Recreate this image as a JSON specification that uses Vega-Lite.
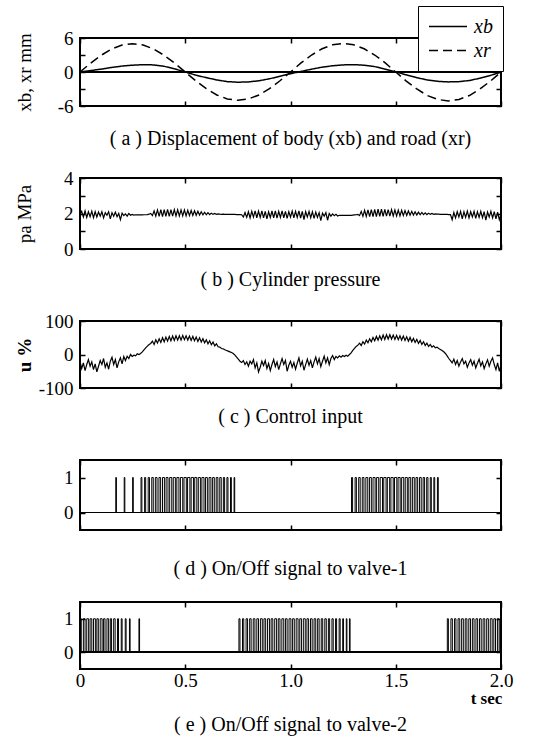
{
"$schema": "https://vega.github.io/schema/vega-lite/v6.json",
"padding": {"left": 14, "top": 5, "right": 5, "bottom": 10},
"bounds": "flush",
"spacing": 72,
"config": {
 "font": "Liberation Serif",
 "view": {"stroke": "black", "strokeWidth": 2},
 "axis": {"domain": false, "grid": false, "tickSize": -5, "tickWidth": 1.5, "tickColor": "black", "labelFont": "Liberation Serif", "labelFontSize": 19, "labelColor": "black", "labelPadding": 12, "labelFlush": false, "labelOverlap": false, "titleFont": "Liberation Serif", "titleFontSize": 19, "titleFontWeight": "normal", "titleColor": "black"},
 "title": {"font": "Liberation Serif", "fontSize": 20, "fontWeight": "normal", "color": "black", "anchor": "middle"}
},
"datasets": {
 "disp": [
  {"t":0,"v":0,"s":"xb"},{"t":0.05,"v":0.25,"s":"xb"},{"t":0.1,"v":0.5,"s":"xb"},{"t":0.15,"v":0.8,"s":"xb"},{"t":0.2,"v":1.05,"s":"xb"},{"t":0.25,"v":1.2,"s":"xb"},{"t":0.3,"v":1.3,"s":"xb"},{"t":0.35,"v":1.25,"s":"xb"},{"t":0.4,"v":1.0,"s":"xb"},{"t":0.45,"v":0.55,"s":"xb"},{"t":0.5,"v":0,"s":"xb"},{"t":0.55,"v":-0.55,"s":"xb"},{"t":0.6,"v":-1.0,"s":"xb"},{"t":0.65,"v":-1.4,"s":"xb"},{"t":0.7,"v":-1.7,"s":"xb"},{"t":0.75,"v":-1.8,"s":"xb"},{"t":0.8,"v":-1.75,"s":"xb"},{"t":0.85,"v":-1.55,"s":"xb"},{"t":0.9,"v":-1.2,"s":"xb"},{"t":0.95,"v":-0.75,"s":"xb"},{"t":1.0,"v":-0.3,"s":"xb"},{"t":1.05,"v":0.1,"s":"xb"},{"t":1.1,"v":0.5,"s":"xb"},{"t":1.15,"v":0.85,"s":"xb"},{"t":1.2,"v":1.1,"s":"xb"},{"t":1.25,"v":1.25,"s":"xb"},{"t":1.3,"v":1.3,"s":"xb"},{"t":1.35,"v":1.2,"s":"xb"},{"t":1.4,"v":0.95,"s":"xb"},{"t":1.45,"v":0.5,"s":"xb"},{"t":1.5,"v":0,"s":"xb"},{"t":1.55,"v":-0.5,"s":"xb"},{"t":1.6,"v":-1.0,"s":"xb"},{"t":1.65,"v":-1.4,"s":"xb"},{"t":1.7,"v":-1.65,"s":"xb"},{"t":1.75,"v":-1.75,"s":"xb"},{"t":1.8,"v":-1.7,"s":"xb"},{"t":1.85,"v":-1.5,"s":"xb"},{"t":1.9,"v":-1.1,"s":"xb"},{"t":1.95,"v":-0.6,"s":"xb"},{"t":2.0,"v":0,"s":"xb"},
  {"t":0,"v":0,"s":"xr"},{"t":0.05,"v":1.55,"s":"xr"},{"t":0.1,"v":2.94,"s":"xr"},{"t":0.15,"v":4.05,"s":"xr"},{"t":0.2,"v":4.76,"s":"xr"},{"t":0.25,"v":5.0,"s":"xr"},{"t":0.3,"v":4.76,"s":"xr"},{"t":0.35,"v":4.05,"s":"xr"},{"t":0.4,"v":2.94,"s":"xr"},{"t":0.45,"v":1.55,"s":"xr"},{"t":0.5,"v":0,"s":"xr"},{"t":0.55,"v":-1.55,"s":"xr"},{"t":0.6,"v":-2.94,"s":"xr"},{"t":0.65,"v":-4.05,"s":"xr"},{"t":0.7,"v":-4.76,"s":"xr"},{"t":0.75,"v":-5.0,"s":"xr"},{"t":0.8,"v":-4.76,"s":"xr"},{"t":0.85,"v":-4.05,"s":"xr"},{"t":0.9,"v":-2.94,"s":"xr"},{"t":0.95,"v":-1.55,"s":"xr"},{"t":1.0,"v":0,"s":"xr"},{"t":1.05,"v":1.6,"s":"xr"},{"t":1.1,"v":3.0,"s":"xr"},{"t":1.15,"v":4.1,"s":"xr"},{"t":1.2,"v":4.8,"s":"xr"},{"t":1.25,"v":5.05,"s":"xr"},{"t":1.3,"v":4.8,"s":"xr"},{"t":1.35,"v":4.1,"s":"xr"},{"t":1.4,"v":3.0,"s":"xr"},{"t":1.45,"v":1.6,"s":"xr"},{"t":1.5,"v":0,"s":"xr"},{"t":1.55,"v":-1.6,"s":"xr"},{"t":1.6,"v":-3.0,"s":"xr"},{"t":1.65,"v":-4.15,"s":"xr"},{"t":1.7,"v":-4.85,"s":"xr"},{"t":1.75,"v":-5.1,"s":"xr"},{"t":1.8,"v":-4.85,"s":"xr"},{"t":1.85,"v":-4.15,"s":"xr"},{"t":1.9,"v":-3.0,"s":"xr"},{"t":1.95,"v":-1.6,"s":"xr"},{"t":2.0,"v":0,"s":"xr"}
 ],
 "pu": [
  {"t":0,"p":1.95,"u":-20},{"t":0.008,"p":2.12,"u":-42},{"t":0.016,"p":1.8,"u":-25},{"t":0.024,"p":2.15,"u":-48},{"t":0.032,"p":1.78,"u":-30},{"t":0.04,"p":2.1,"u":-15},{"t":0.048,"p":1.82,"u":-35},{"t":0.056,"p":2.13,"u":-22},{"t":0.064,"p":1.76,"u":-45},{"t":0.072,"p":2.1,"u":-28},
  {"t":0.08,"p":1.8,"u":-52},{"t":0.088,"p":2.08,"u":-35},{"t":0.096,"p":1.85,"u":-18},{"t":0.104,"p":2.1,"u":-30},{"t":0.112,"p":1.75,"u":-12},{"t":0.12,"p":2.05,"u":-38},{"t":0.128,"p":1.9,"u":-25},{"t":0.136,"p":2.1,"u":-44},{"t":0.144,"p":1.7,"u":-20},{"t":0.152,"p":2.05,"u":-8},
  {"t":0.16,"p":1.85,"u":-30},{"t":0.168,"p":2.08,"u":-15},{"t":0.176,"p":1.82,"u":-40},{"t":0.184,"p":2.0,"u":-22},{"t":0.192,"p":1.65,"u":-10},{"t":0.2,"p":2.02,"u":-28},{"t":0.208,"p":1.88,"u":-6},{"t":0.216,"p":1.98,"u":-18},{"t":0.224,"p":1.85,"u":-5},{"t":0.232,"p":2.0,"u":-12},
  {"t":0.24,"p":1.9,"u":0},{"t":0.248,"p":1.95,"u":-6},{"t":0.256,"p":1.91,"u":-2},{"t":0.264,"p":1.93,"u":-4},{"t":0.272,"p":1.92,"u":2},{"t":0.28,"p":1.92,"u":0},{"t":0.288,"p":1.93,"u":3},{"t":0.296,"p":1.92,"u":8},{"t":0.304,"p":1.93,"u":14},{"t":0.312,"p":1.93,"u":20},
  {"t":0.32,"p":1.94,"u":25},{"t":0.328,"p":1.96,"u":30},{"t":0.336,"p":2.0,"u":33},{"t":0.344,"p":1.88,"u":40},{"t":0.352,"p":2.15,"u":30},{"t":0.36,"p":1.85,"u":44},{"t":0.368,"p":2.2,"u":34},{"t":0.376,"p":1.84,"u":47},{"t":0.384,"p":2.22,"u":36},{"t":0.392,"p":1.83,"u":50},
  {"t":0.4,"p":2.22,"u":38},{"t":0.408,"p":1.84,"u":52},{"t":0.416,"p":2.23,"u":40},{"t":0.424,"p":1.84,"u":54},{"t":0.432,"p":2.22,"u":41},{"t":0.44,"p":1.85,"u":55},{"t":0.448,"p":2.22,"u":42},{"t":0.456,"p":1.86,"u":56},{"t":0.464,"p":2.21,"u":43},{"t":0.472,"p":1.86,"u":56},
  {"t":0.48,"p":2.2,"u":43},{"t":0.488,"p":1.87,"u":57},{"t":0.496,"p":2.2,"u":44},{"t":0.504,"p":1.87,"u":56},{"t":0.512,"p":2.18,"u":43},{"t":0.52,"p":1.88,"u":55},{"t":0.528,"p":2.17,"u":42},{"t":0.536,"p":1.89,"u":54},{"t":0.544,"p":2.15,"u":41},{"t":0.552,"p":1.9,"u":52},
  {"t":0.56,"p":2.13,"u":39},{"t":0.568,"p":1.91,"u":50},{"t":0.576,"p":2.1,"u":37},{"t":0.584,"p":1.92,"u":47},{"t":0.592,"p":2.07,"u":35},{"t":0.6,"p":1.93,"u":44},{"t":0.608,"p":2.05,"u":32},{"t":0.616,"p":1.94,"u":41},{"t":0.624,"p":2.02,"u":29},{"t":0.632,"p":1.95,"u":37},
  {"t":0.64,"p":2.0,"u":26},{"t":0.648,"p":1.95,"u":32},{"t":0.656,"p":1.98,"u":23},{"t":0.664,"p":1.96,"u":22},{"t":0.672,"p":1.95,"u":18},{"t":0.68,"p":1.96,"u":17},{"t":0.688,"p":1.95,"u":14},{"t":0.696,"p":1.95,"u":12},{"t":0.704,"p":1.95,"u":10},{"t":0.712,"p":1.95,"u":8},
  {"t":0.72,"p":1.95,"u":6},{"t":0.728,"p":1.95,"u":3},{"t":0.736,"p":1.95,"u":-2},{"t":0.744,"p":1.94,"u":-8},{"t":0.752,"p":1.94,"u":-14},{"t":0.76,"p":1.94,"u":-20},{"t":0.768,"p":1.93,"u":-24},{"t":0.776,"p":1.8,"u":-18},{"t":0.784,"p":2.05,"u":-30},{"t":0.792,"p":1.78,"u":-22},
  {"t":0.8,"p":2.1,"u":-35},{"t":0.808,"p":1.75,"u":-20},{"t":0.816,"p":2.12,"u":-28},{"t":0.824,"p":1.8,"u":-15},{"t":0.832,"p":2.15,"u":-40},{"t":0.84,"p":1.76,"u":-25},{"t":0.848,"p":2.13,"u":-52},{"t":0.856,"p":1.78,"u":-38},{"t":0.864,"p":2.15,"u":-20},{"t":0.872,"p":1.75,"u":-33},
  {"t":0.88,"p":2.12,"u":-18},{"t":0.888,"p":1.7,"u":-42},{"t":0.896,"p":2.1,"u":-27},{"t":0.904,"p":1.78,"u":-48},{"t":0.912,"p":2.14,"u":-30},{"t":0.92,"p":1.76,"u":-15},{"t":0.928,"p":2.15,"u":-36},{"t":0.936,"p":1.74,"u":-22},{"t":0.944,"p":2.12,"u":-45},{"t":0.952,"p":1.78,"u":-28},
  {"t":0.96,"p":2.15,"u":-12},{"t":0.968,"p":1.76,"u":-30},{"t":0.976,"p":2.12,"u":-18},{"t":0.984,"p":1.72,"u":-50},{"t":0.992,"p":2.1,"u":-32},{"t":1.0,"p":1.8,"u":-20},{"t":1.008,"p":2.14,"u":-38},{"t":1.016,"p":1.75,"u":-24},{"t":1.024,"p":2.12,"u":-44},{"t":1.032,"p":1.78,"u":-26},
  {"t":1.04,"p":2.15,"u":-10},{"t":1.048,"p":1.74,"u":-34},{"t":1.056,"p":2.12,"u":-20},{"t":1.064,"p":1.65,"u":-47},{"t":1.072,"p":2.1,"u":-30},{"t":1.08,"p":1.8,"u":-14},{"t":1.088,"p":2.12,"u":-32},{"t":1.096,"p":1.76,"u":-18},{"t":1.104,"p":2.1,"u":-40},{"t":1.112,"p":1.72,"u":-22},
  {"t":1.12,"p":2.08,"u":-8},{"t":1.128,"p":1.78,"u":-28},{"t":1.136,"p":2.05,"u":-12},{"t":1.144,"p":1.6,"u":-36},{"t":1.152,"p":2.02,"u":-20},{"t":1.16,"p":1.85,"u":-5},{"t":1.168,"p":2.05,"u":-25},{"t":1.176,"p":1.62,"u":-10},{"t":1.184,"p":2.0,"u":-30},{"t":1.192,"p":1.85,"u":-12},
  {"t":1.2,"p":1.98,"u":-3},{"t":1.208,"p":1.88,"u":-15},{"t":1.216,"p":1.95,"u":-6},{"t":1.224,"p":1.86,"u":-10},{"t":1.232,"p":1.9,"u":-4},{"t":1.24,"p":1.89,"u":-8},{"t":1.248,"p":1.9,"u":-3},{"t":1.256,"p":1.9,"u":-6},{"t":1.264,"p":1.89,"u":-2},{"t":1.272,"p":1.9,"u":-5},
  {"t":1.28,"p":1.9,"u":0},{"t":1.288,"p":1.9,"u":5},{"t":1.296,"p":1.91,"u":12},{"t":1.304,"p":1.92,"u":18},{"t":1.312,"p":1.93,"u":24},{"t":1.32,"p":1.95,"u":28},{"t":1.328,"p":1.88,"u":34},{"t":1.336,"p":2.12,"u":27},{"t":1.344,"p":1.84,"u":38},{"t":1.352,"p":2.18,"u":31},
  {"t":1.36,"p":1.83,"u":43},{"t":1.368,"p":2.2,"u":35},{"t":1.376,"p":1.82,"u":47},{"t":1.384,"p":2.22,"u":38},{"t":1.392,"p":1.83,"u":51},{"t":1.4,"p":2.23,"u":41},{"t":1.408,"p":1.83,"u":54},{"t":1.416,"p":2.24,"u":43},{"t":1.424,"p":1.84,"u":56},{"t":1.432,"p":2.24,"u":44},
  {"t":1.44,"p":1.84,"u":58},{"t":1.448,"p":2.23,"u":45},{"t":1.456,"p":1.85,"u":59},{"t":1.464,"p":2.22,"u":46},{"t":1.472,"p":1.85,"u":59},{"t":1.48,"p":2.22,"u":46},{"t":1.488,"p":1.86,"u":58},{"t":1.496,"p":2.2,"u":45},{"t":1.504,"p":1.86,"u":57},{"t":1.512,"p":2.19,"u":44},
  {"t":1.52,"p":1.87,"u":56},{"t":1.528,"p":2.18,"u":43},{"t":1.536,"p":1.88,"u":55},{"t":1.544,"p":2.16,"u":42},{"t":1.552,"p":1.89,"u":53},{"t":1.56,"p":2.14,"u":40},{"t":1.568,"p":1.9,"u":51},{"t":1.576,"p":2.12,"u":38},{"t":1.584,"p":1.91,"u":48},{"t":1.592,"p":2.1,"u":36},
  {"t":1.6,"p":1.92,"u":45},{"t":1.608,"p":2.08,"u":33},{"t":1.616,"p":1.93,"u":42},{"t":1.624,"p":2.06,"u":30},{"t":1.632,"p":1.94,"u":38},{"t":1.64,"p":2.04,"u":27},{"t":1.648,"p":1.94,"u":34},{"t":1.656,"p":2.02,"u":24},{"t":1.664,"p":1.95,"u":30},{"t":1.672,"p":2.0,"u":22},
  {"t":1.68,"p":1.95,"u":26},{"t":1.688,"p":1.98,"u":20},{"t":1.696,"p":1.96,"u":22},{"t":1.704,"p":1.96,"u":18},{"t":1.712,"p":1.95,"u":15},{"t":1.72,"p":1.95,"u":12},{"t":1.728,"p":1.95,"u":8},{"t":1.736,"p":1.95,"u":3},{"t":1.744,"p":1.95,"u":-4},{"t":1.752,"p":1.94,"u":-12},
  {"t":1.76,"p":1.94,"u":-18},{"t":1.768,"p":1.65,"u":-25},{"t":1.776,"p":2.05,"u":-14},{"t":1.784,"p":1.75,"u":-30},{"t":1.792,"p":2.1,"u":-18},{"t":1.8,"p":1.8,"u":-35},{"t":1.808,"p":2.12,"u":-22},{"t":1.816,"p":1.7,"u":-12},{"t":1.824,"p":2.1,"u":-28},{"t":1.832,"p":1.78,"u":-20},
  {"t":1.84,"p":2.13,"u":-38},{"t":1.848,"p":1.75,"u":-25},{"t":1.856,"p":2.1,"u":-15},{"t":1.864,"p":1.8,"u":-32},{"t":1.872,"p":2.12,"u":-20},{"t":1.88,"p":1.72,"u":-40},{"t":1.888,"p":2.1,"u":-26},{"t":1.896,"p":1.78,"u":-14},{"t":1.904,"p":2.12,"u":-34},{"t":1.912,"p":1.76,"u":-22},
  {"t":1.92,"p":2.1,"u":-42},{"t":1.928,"p":1.62,"u":-28},{"t":1.936,"p":2.08,"u":-16},{"t":1.944,"p":1.8,"u":-35},{"t":1.952,"p":2.12,"u":-20},{"t":1.96,"p":1.75,"u":-10},{"t":1.968,"p":2.1,"u":-30},{"t":1.976,"p":1.7,"u":-45},{"t":1.984,"p":2.08,"u":-25},{"t":1.992,"p":1.65,"u":-50},
  {"t":2.0,"p":1.95,"u":-30}
 ],
 "v1": [
  {"t0":0.17,"t1":0.173,"v":1},{"t0":0.21,"t1":0.213,"v":1},{"t0":0.25,"t1":0.253,"v":1},
  {"t0":0.29,"t1":0.294,"v":1},{"t0":0.307,"t1":0.312,"v":1},{"t0":0.324,"t1":0.33,"v":1},{"t0":0.341,"t1":0.348,"v":1},{"t0":0.358,"t1":0.366,"v":1},{"t0":0.375,"t1":0.383,"v":1},{"t0":0.392,"t1":0.401,"v":1},{"t0":0.409,"t1":0.418,"v":1},{"t0":0.426,"t1":0.436,"v":1},{"t0":0.443,"t1":0.453,"v":1},{"t0":0.46,"t1":0.47,"v":1},{"t0":0.477,"t1":0.488,"v":1},{"t0":0.494,"t1":0.505,"v":1},{"t0":0.511,"t1":0.522,"v":1},{"t0":0.528,"t1":0.539,"v":1},{"t0":0.545,"t1":0.555,"v":1},{"t0":0.562,"t1":0.572,"v":1},{"t0":0.579,"t1":0.589,"v":1},{"t0":0.596,"t1":0.605,"v":1},{"t0":0.613,"t1":0.622,"v":1},{"t0":0.63,"t1":0.638,"v":1},{"t0":0.647,"t1":0.655,"v":1},{"t0":0.664,"t1":0.671,"v":1},{"t0":0.681,"t1":0.687,"v":1},{"t0":0.698,"t1":0.703,"v":1},{"t0":0.715,"t1":0.719,"v":1},{"t0":0.732,"t1":0.735,"v":1},
  {"t0":1.29,"t1":1.295,"v":1},{"t0":1.307,"t1":1.313,"v":1},{"t0":1.324,"t1":1.331,"v":1},{"t0":1.341,"t1":1.349,"v":1},{"t0":1.358,"t1":1.367,"v":1},{"t0":1.375,"t1":1.384,"v":1},{"t0":1.392,"t1":1.402,"v":1},{"t0":1.409,"t1":1.419,"v":1},{"t0":1.426,"t1":1.437,"v":1},{"t0":1.443,"t1":1.454,"v":1},{"t0":1.46,"t1":1.471,"v":1},{"t0":1.477,"t1":1.488,"v":1},{"t0":1.494,"t1":1.505,"v":1},{"t0":1.511,"t1":1.521,"v":1},{"t0":1.528,"t1":1.538,"v":1},{"t0":1.545,"t1":1.555,"v":1},{"t0":1.562,"t1":1.571,"v":1},{"t0":1.579,"t1":1.588,"v":1},{"t0":1.596,"t1":1.604,"v":1},{"t0":1.613,"t1":1.621,"v":1},{"t0":1.63,"t1":1.637,"v":1},{"t0":1.647,"t1":1.653,"v":1},{"t0":1.664,"t1":1.669,"v":1},{"t0":1.681,"t1":1.685,"v":1},{"t0":1.698,"t1":1.702,"v":1}
 ],
 "v2": [
  {"t0":0.0,"t1":0.006,"v":1},{"t0":0.016,"t1":0.024,"v":1},{"t0":0.032,"t1":0.041,"v":1},{"t0":0.048,"t1":0.056,"v":1},{"t0":0.064,"t1":0.073,"v":1},{"t0":0.08,"t1":0.087,"v":1},{"t0":0.096,"t1":0.105,"v":1},{"t0":0.112,"t1":0.119,"v":1},{"t0":0.128,"t1":0.136,"v":1},{"t0":0.144,"t1":0.15,"v":1},{"t0":0.16,"t1":0.167,"v":1},{"t0":0.178,"t1":0.183,"v":1},{"t0":0.196,"t1":0.2,"v":1},{"t0":0.215,"t1":0.219,"v":1},{"t0":0.235,"t1":0.238,"v":1},{"t0":0.28,"t1":0.283,"v":1},
  {"t0":0.755,"t1":0.76,"v":1},{"t0":0.772,"t1":0.778,"v":1},{"t0":0.789,"t1":0.796,"v":1},{"t0":0.806,"t1":0.813,"v":1},{"t0":0.823,"t1":0.831,"v":1},{"t0":0.84,"t1":0.848,"v":1},{"t0":0.857,"t1":0.866,"v":1},{"t0":0.874,"t1":0.882,"v":1},{"t0":0.891,"t1":0.9,"v":1},{"t0":0.908,"t1":0.916,"v":1},{"t0":0.925,"t1":0.934,"v":1},{"t0":0.942,"t1":0.95,"v":1},{"t0":0.959,"t1":0.968,"v":1},{"t0":0.976,"t1":0.984,"v":1},{"t0":0.993,"t1":1.002,"v":1},{"t0":1.01,"t1":1.018,"v":1},{"t0":1.027,"t1":1.036,"v":1},{"t0":1.044,"t1":1.052,"v":1},{"t0":1.061,"t1":1.07,"v":1},{"t0":1.078,"t1":1.086,"v":1},{"t0":1.095,"t1":1.103,"v":1},{"t0":1.112,"t1":1.12,"v":1},{"t0":1.129,"t1":1.136,"v":1},{"t0":1.146,"t1":1.153,"v":1},{"t0":1.163,"t1":1.17,"v":1},{"t0":1.18,"t1":1.186,"v":1},{"t0":1.197,"t1":1.203,"v":1},{"t0":1.214,"t1":1.219,"v":1},{"t0":1.231,"t1":1.236,"v":1},{"t0":1.248,"t1":1.252,"v":1},{"t0":1.265,"t1":1.268,"v":1},{"t0":1.28,"t1":1.283,"v":1},
  {"t0":1.745,"t1":1.75,"v":1},{"t0":1.762,"t1":1.769,"v":1},{"t0":1.779,"t1":1.786,"v":1},{"t0":1.796,"t1":1.804,"v":1},{"t0":1.813,"t1":1.821,"v":1},{"t0":1.83,"t1":1.838,"v":1},{"t0":1.847,"t1":1.855,"v":1},{"t0":1.864,"t1":1.872,"v":1},{"t0":1.881,"t1":1.889,"v":1},{"t0":1.898,"t1":1.906,"v":1},{"t0":1.915,"t1":1.923,"v":1},{"t0":1.932,"t1":1.94,"v":1},{"t0":1.949,"t1":1.958,"v":1},{"t0":1.966,"t1":1.974,"v":1},{"t0":1.983,"t1":1.991,"v":1},{"t0":1.996,"t1":2.0,"v":1}
 ]
},
"vconcat": [
 {
  "width": 421, "height": 68,
  "title": {"text": "( a )   Displacement of body (xb) and road (xr)", "orient": "bottom", "offset": 13},
  "data": {"name": "disp"},
  "layer": [
   {"mark": {"type": "rule", "color": "black", "strokeWidth": 1}, "encoding": {"y": {"datum": 0, "type": "quantitative", "axis": null}}},
   {"mark": {"type": "line", "color": "black", "strokeWidth": 1.5},
    "encoding": {
     "x": {"field": "t", "type": "quantitative", "scale": {"domain": [0, 2], "nice": false}, "axis": {"orient": "bottom", "values": [0, 0.5, 1, 1.5, 2], "labels": false, "title": null}},
     "y": {"field": "v", "type": "quantitative", "scale": {"domain": [-6, 6], "nice": false}, "axis": {"orient": "left", "values": [-6, -3, 0, 3, 6], "labelExpr": "datum.value % 6 === 0 ? '' + datum.value : ''", "title": "xb,  xr mm", "titleX": -56, "titleBaseline": "middle"}},
     "strokeDash": {"field": "s", "type": "nominal", "scale": {"domain": ["xb", "xr"], "range": [[1, 0], [9, 5]]},
      "legend": {"orient": "none", "legendX": 338, "legendY": -32, "title": null, "strokeColor": "black", "fillColor": "white", "padding": 10, "symbolType": "M-1,0H3", "symbolSize": 361, "symbolStrokeWidth": 1.5, "symbolStrokeColor": "black", "labelFont": "Liberation Serif", "labelFontStyle": "italic", "labelFontSize": 20, "labelOffset": 25, "rowPadding": 3}}
    }},
   {"mark": {"type": "point", "opacity": 0},
    "encoding": {
     "x": {"field": "t", "type": "quantitative", "axis": {"orient": "top", "values": [0, 0.5, 1, 1.5, 2], "labels": false, "title": null}},
     "y": {"field": "v", "type": "quantitative", "axis": {"orient": "right", "values": [-6, -3, 0, 3, 6], "labels": false, "title": null}}
    }}
  ],
  "resolve": {"axis": {"x": "independent", "y": "independent"}}
 },
 {
  "width": 421, "height": 71,
  "title": {"text": "( b )   Cylinder pressure", "orient": "bottom", "offset": 11},
  "data": {"name": "pu"},
  "layer": [
   {"mark": {"type": "line", "color": "black", "strokeWidth": 1.2},
    "encoding": {
     "x": {"field": "t", "type": "quantitative", "scale": {"domain": [0, 2], "nice": false}, "axis": {"orient": "bottom", "values": [0, 0.5, 1, 1.5, 2], "labels": false, "title": null}},
     "y": {"field": "p", "type": "quantitative", "scale": {"domain": [0, 4], "nice": false}, "axis": {"orient": "left", "values": [0, 1, 2, 3, 4], "labelExpr": "datum.value % 2 === 0 ? datum.label : ''", "title": "pa MPa", "titleX": -56, "titleBaseline": "middle"}}
    }},
   {"mark": {"type": "point", "opacity": 0},
    "encoding": {
     "x": {"field": "t", "type": "quantitative", "axis": {"orient": "top", "values": [0, 0.5, 1, 1.5, 2], "labels": false, "title": null}},
     "y": {"field": "p", "type": "quantitative", "axis": {"orient": "right", "values": [0, 1, 2, 3, 4], "labels": false, "title": null}}
    }}
  ],
  "resolve": {"axis": {"x": "independent", "y": "independent"}}
 },
 {
  "width": 421, "height": 67,
  "title": {"text": "( c )   Control input", "orient": "bottom", "offset": 9},
  "data": {"name": "pu"},
  "layer": [
   {"mark": {"type": "line", "color": "black", "strokeWidth": 1.2},
    "encoding": {
     "x": {"field": "t", "type": "quantitative", "scale": {"domain": [0, 2], "nice": false}, "axis": {"orient": "bottom", "values": [0, 0.5, 1, 1.5, 2], "labels": false, "title": null}},
     "y": {"field": "u", "type": "quantitative", "scale": {"domain": [-100, 100], "nice": false}, "axis": {"orient": "left", "values": [-100, 0, 100], "labelExpr": "'' + datum.value", "title": "u %", "titleFontWeight": "bold", "titleX": -56, "titleBaseline": "middle"}}
    }},
   {"mark": {"type": "point", "opacity": 0},
    "encoding": {
     "x": {"field": "t", "type": "quantitative", "axis": {"orient": "top", "values": [0, 0.5, 1, 1.5, 2], "labels": false, "title": null}},
     "y": {"field": "u", "type": "quantitative", "axis": {"orient": "right", "values": [-100, 0, 100], "labels": false, "title": null}}
    }}
  ],
  "resolve": {"axis": {"x": "independent", "y": "independent"}}
 },
 {
  "width": 421, "height": 70,
  "title": {"text": "( d )   On/Off signal to valve-1", "orient": "bottom", "offset": 28},
  "data": {"name": "v1"},
  "layer": [
   {"mark": {"type": "rule", "color": "black", "strokeWidth": 1}, "encoding": {"y": {"datum": 0, "type": "quantitative", "axis": null}}},
   {"mark": {"type": "rect", "filled": false, "color": "black", "strokeWidth": 1},
    "encoding": {
     "x": {"field": "t0", "type": "quantitative", "scale": {"domain": [0, 2], "nice": false}, "axis": {"orient": "bottom", "values": [0, 0.5, 1, 1.5, 2], "labels": false, "title": null}},
     "x2": {"field": "t1"},
     "y": {"field": "v", "type": "quantitative", "scale": {"domain": [-0.5, 1.5], "nice": false, "zero": false}, "axis": {"orient": "left", "values": [0, 1], "title": null}},
     "y2": {"datum": 0}
    }},
   {"mark": {"type": "point", "opacity": 0},
    "encoding": {
     "x": {"field": "t0", "type": "quantitative", "axis": {"orient": "top", "values": [0, 0.5, 1, 1.5, 2], "labels": false, "title": null}},
     "y": {"field": "v", "type": "quantitative", "axis": {"orient": "right", "values": [0, 1], "labels": false, "title": null}}
    }}
  ],
  "resolve": {"axis": {"x": "independent", "y": "independent"}}
 },
 {
  "width": 421, "height": 67,
  "title": {"text": "( e )   On/Off signal to valve-2", "orient": "bottom", "offset": 9},
  "data": {"name": "v2"},
  "layer": [
   {"mark": {"type": "rule", "color": "black", "strokeWidth": 1}, "encoding": {"y": {"datum": 0, "type": "quantitative", "axis": null}}},
   {"mark": {"type": "rect", "filled": false, "color": "black", "strokeWidth": 1},
    "encoding": {
     "x": {"field": "t0", "type": "quantitative", "scale": {"domain": [0, 2], "nice": false}, "axis": {"orient": "bottom", "values": [0, 0.5, 1, 1.5, 2], "labelExpr": "datum.value === 0 ? '0' : format(datum.value, '.1f')", "labelPadding": 7, "title": "t sec", "titleFontWeight": "bold", "titleFontSize": 17, "titleX": 406, "titleY": 29, "titleBaseline": "middle", "titleAlign": "center"}},
     "x2": {"field": "t1"},
     "y": {"field": "v", "type": "quantitative", "scale": {"domain": [-0.5, 1.5], "nice": false, "zero": false}, "axis": {"orient": "left", "values": [0, 1], "title": null}},
     "y2": {"datum": 0}
    }},
   {"mark": {"type": "point", "opacity": 0},
    "encoding": {
     "x": {"field": "t0", "type": "quantitative", "axis": {"orient": "top", "values": [0, 0.5, 1, 1.5, 2], "labels": false, "title": null}},
     "y": {"field": "v", "type": "quantitative", "axis": {"orient": "right", "values": [0, 1], "labels": false, "title": null}}
    }}
  ],
  "resolve": {"axis": {"x": "independent", "y": "independent"}}
 }
]
}
